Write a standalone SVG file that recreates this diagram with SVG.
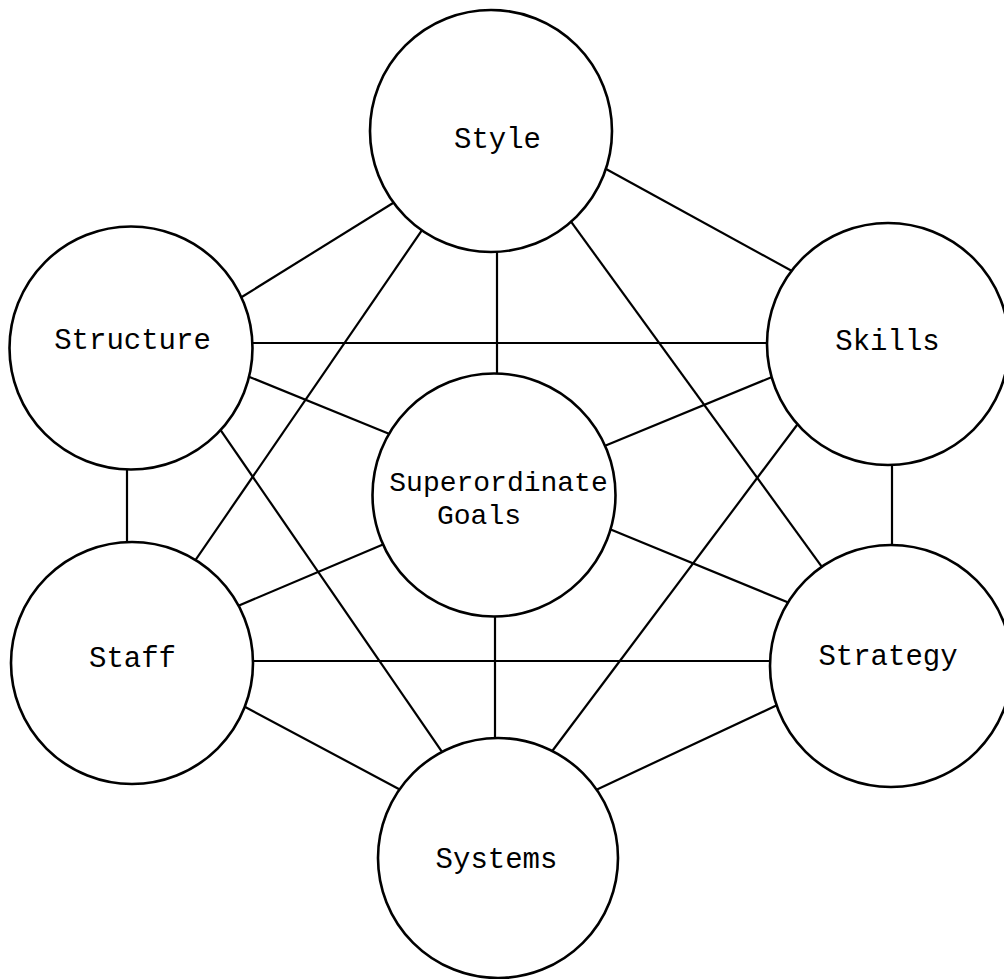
<svg xmlns="http://www.w3.org/2000/svg" width="1004" height="979" viewBox="0 0 1004 979">
  <style>
    .bg { fill: #ffffff; }
    .link { stroke: #000000; stroke-width: 2.2; fill: none; stroke-linecap: butt; }
    .node circle { fill: #ffffff; stroke: #000000; stroke-width: 2.6; }
    .node text { font-family: "Liberation Mono", "Courier New", monospace; font-size: 29px; fill: #000000; }
    .node text.tight { font-size: 28px; }
  </style>
  <rect class="bg" x="0" y="0" width="1004" height="979"/>

  <!-- connectors: drawn first, circles are filled white and hide the line ends -->
  <g id="connectors">
    <line class="link" x1="599.2" y1="165.2" x2="798.8" y2="274.8"/>
    <line class="link" x1="401.5" y1="197.7" x2="236.5" y2="300.3"/>
    <line class="link" x1="427.7" y1="221.8" x2="191.3" y2="566.2"/>
    <line class="link" x1="566.1" y1="214.9" x2="827.9" y2="575.1"/>
    <line class="link" x1="497" y1="245" x2="497" y2="380"/>
    <line class="link" x1="245" y1="343" x2="775" y2="343"/>
    <line class="link" x1="242.7" y1="374.2" x2="396.3" y2="436.8"/>
    <line class="link" x1="127" y1="460" x2="127" y2="550"/>
    <line class="link" x1="216.3" y1="423.8" x2="447.7" y2="760.2"/>
    <line class="link" x1="781.2" y1="373.2" x2="597.8" y2="448.8"/>
    <line class="link" x1="892" y1="455" x2="892" y2="555"/>
    <line class="link" x1="803" y1="417" x2="547" y2="758"/>
    <line class="link" x1="230.8" y1="608.9" x2="391.2" y2="541.1"/>
    <line class="link" x1="245" y1="661" x2="780" y2="661"/>
    <line class="link" x1="238.2" y1="703.3" x2="405.8" y2="792.7"/>
    <line class="link" x1="796.2" y1="605.8" x2="602.8" y2="526.2"/>
    <line class="link" x1="782" y1="702.8" x2="589" y2="793.2"/>
    <line class="link" x1="495" y1="605" x2="495" y2="748"/>
  </g>

  <g id="style" class="node">
    <circle cx="491" cy="131" r="121"/>
    <text x="497.5" y="148" text-anchor="middle">Style</text>
  </g>
  <g id="structure" class="node">
    <circle cx="131" cy="348" r="121.5"/>
    <text x="132.5" y="349" text-anchor="middle">Structure</text>
  </g>
  <g id="skills" class="node">
    <circle cx="888" cy="344" r="121"/>
    <text x="887.5" y="350" text-anchor="middle">Skills</text>
  </g>
  <g id="superordinate-goals" class="node">
    <circle cx="494" cy="495" r="121.5"/>
    <text class="tight" x="498.5" y="491" text-anchor="middle">Superordinate</text>
    <text class="tight" x="437" y="524">Goals</text>
  </g>
  <g id="staff" class="node">
    <circle cx="132" cy="663" r="121"/>
    <text x="132.5" y="667" text-anchor="middle">Staff</text>
  </g>
  <g id="strategy" class="node">
    <circle cx="891" cy="666" r="121"/>
    <text x="888" y="665" text-anchor="middle">Strategy</text>
  </g>
  <g id="systems" class="node">
    <circle cx="498" cy="858" r="120"/>
    <text x="496.5" y="868" text-anchor="middle">Systems</text>
  </g>
</svg>
